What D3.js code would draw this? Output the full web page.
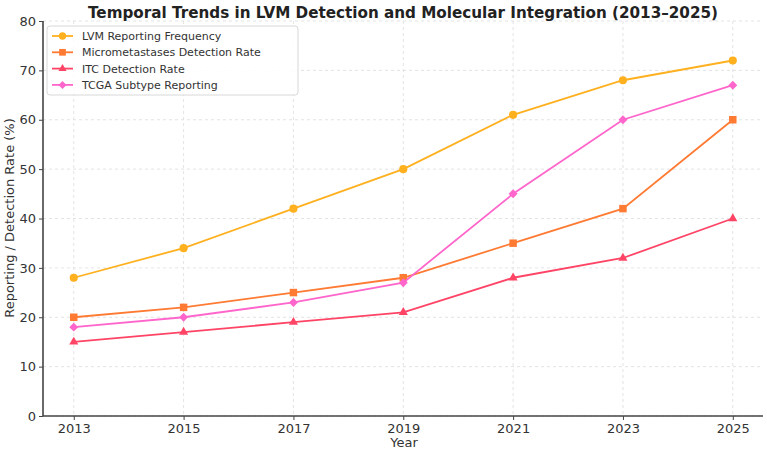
<!DOCTYPE html>
<html><head><meta charset="utf-8">
<script src="https://cdn.jsdelivr.net/npm/d3@7"></script>
<style>body{margin:0;background:#fff}text{font-family:"DejaVu Sans",sans-serif}</style>
</head><body>
<svg id="c" width="767" height="451"></svg>
<script>
const years = [2013, 2015, 2017, 2019, 2021, 2023, 2025];
const lvm = [28, 34, 42, 50, 61, 68, 72];
const micro = [20, 22, 25, 28, 35, 42, 60];
const itc = [15, 17, 19, 21, 28, 32, 40];
const tcga = [18, 20, 23, 27, 45, 60, 67];
const seriesNames = ["LVM Reporting Frequency", "Micrometastases Detection Rate", "ITC Detection Rate", "TCGA Subtype Reporting"];
const yTicks = [0, 10, 20, 30, 40, 50, 60, 70, 80];

const series = [
  {name: seriesNames[0], values: lvm, color: "#FFB01F", sym: d3.symbolCircle, size: 52, rot: 0},
  {name: seriesNames[1], values: micro, color: "#FF7A33", sym: d3.symbolSquare, size: 56, rot: 0},
  {name: seriesNames[2], values: itc, color: "#FF4466", sym: d3.symbolTriangle, size: 36, rot: 0},
  {name: seriesNames[3], values: tcga, color: "#FF66CC", sym: d3.symbolSquare, size: 40, rot: 45}
];

const svg = d3.select("#c");
const L = 43, R = 763, T = 21, B = 416;
const x = d3.scaleLinear().domain([2012.44, 2025.55]).range([L, R]);
const y = d3.scaleLinear().domain([0, 80]).range([B, T]);

// grid
const g = svg.append("g");
g.selectAll(".gx").data(years).join("line")
  .attr("x1", d => x(d)).attr("x2", d => x(d)).attr("y1", T).attr("y2", B)
  .attr("stroke", "#dcdcdc").attr("stroke-width", 0.8).attr("stroke-dasharray", "3,3");
g.selectAll(".gy").data(yTicks).join("line")
  .attr("x1", L).attr("x2", R).attr("y1", d => y(d)).attr("y2", d => y(d))
  .attr("stroke", "#dcdcdc").attr("stroke-width", 0.8).attr("stroke-dasharray", "3,3");

// axes
const xAxis = svg.append("g").attr("transform", `translate(0,${B})`)
  .call(d3.axisBottom(x).tickValues(years).tickFormat(d3.format("d")).tickSize(4).tickPadding(4));
const yAxis = svg.append("g").attr("transform", `translate(${L},0)`)
  .call(d3.axisLeft(y).tickValues(yTicks).tickSize(4).tickPadding(3));
[xAxis, yAxis].forEach(a => {
  a.select(".domain").attr("stroke", "#444").attr("stroke-width", 1.6);
  a.selectAll(".tick line").attr("stroke", "#444");
  a.selectAll(".tick text").attr("fill", "#333").style("font-size", "13px").style("font-family", "DejaVu Sans");
});
xAxis.select(".domain").attr("d", `M${L},0H${R}`);
yAxis.select(".domain").attr("d", `M0,${B}V${T}`);

// lines
const line = d3.line().x((d, i) => x(years[i])).y(d => y(d));
series.forEach(s => {
  svg.append("path").datum(s.values).attr("d", line)
    .attr("fill", "none").attr("stroke", s.color).attr("stroke-width", 1.8);
  svg.selectAll(null).data(s.values).join("path")
    .attr("transform", (d, i) => `translate(${x(years[i])},${y(d)}) rotate(${s.rot})`)
    .attr("d", d3.symbol().type(s.sym).size(s.size)).attr("fill", s.color);
});

// legend
const lg = svg.append("g");
lg.append("rect").attr("x", 47).attr("y", 26).attr("width", 251).attr("height", 69)
  .attr("rx", 3).attr("fill", "#fff").attr("fill-opacity", 0.85).attr("stroke", "#d8d8d8");
series.forEach((s, i) => {
  const yy = 36 + i * 16.3;
  lg.append("line").attr("x1", 52).attr("x2", 73).attr("y1", yy).attr("y2", yy)
    .attr("stroke", s.color).attr("stroke-width", 1.8);
  lg.append("path").attr("transform", `translate(62.5,${yy}) rotate(${s.rot})`)
    .attr("d", d3.symbol().type(s.sym).size(s.size * 0.8)).attr("fill", s.color);
  lg.append("text").attr("x", 82).attr("y", yy + 4).text(s.name)
    .attr("fill", "#333").style("font-size", "11px");
});

// title & labels
svg.append("text").attr("x", 403).attr("y", 18).attr("text-anchor", "middle")
  .attr("textLength", 630).attr("lengthAdjust", "spacingAndGlyphs")
  .style("font-size", "16px").style("font-weight", "bold").attr("fill", "#222")
  .text("Temporal Trends in LVM Detection and Molecular Integration (2013–2025)");
svg.append("text").attr("x", 404).attr("y", 447).attr("text-anchor", "middle")
  .style("font-size", "13px").attr("fill", "#333").text("Year");
svg.append("text").attr("transform", "translate(14,218) rotate(-90)").attr("text-anchor", "middle")
  .style("font-size", "13px").attr("fill", "#333").text("Reporting / Detection Rate (%)");
</script>
</body></html>
